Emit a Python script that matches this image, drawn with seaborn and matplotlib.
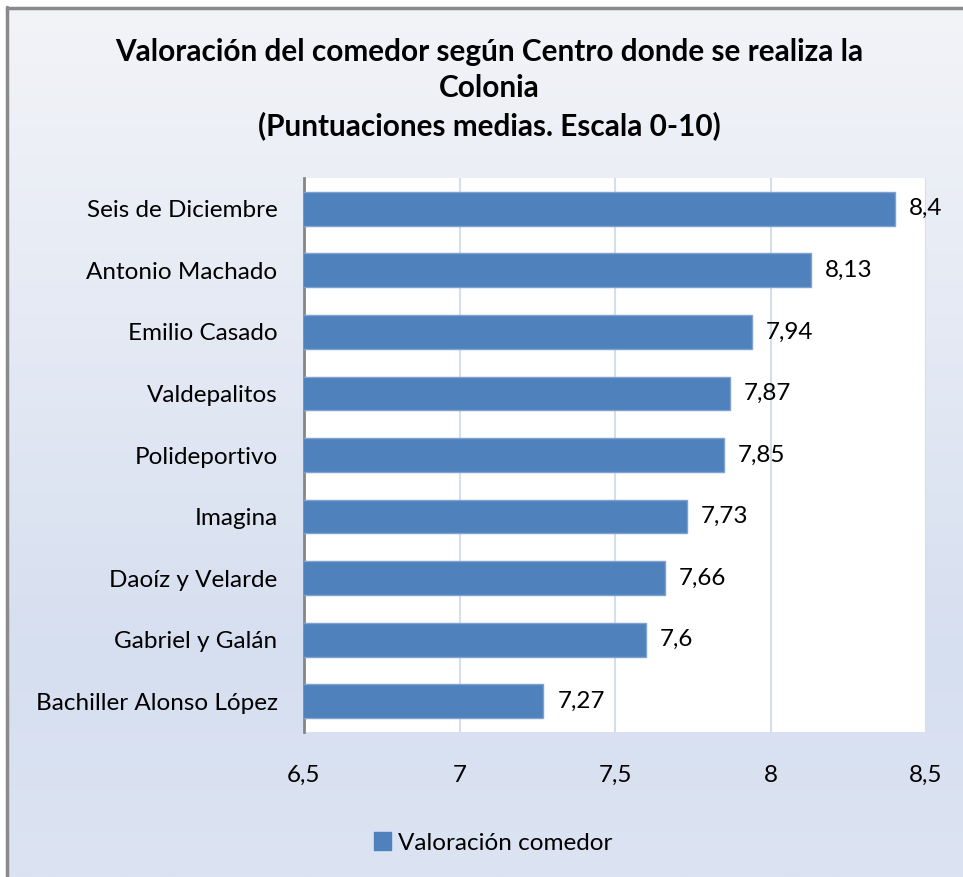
import matplotlib
matplotlib.use("Agg")
import matplotlib.pyplot as plt
import seaborn as sns
import numpy as np
import pandas as pd
from matplotlib.patches import Patch
from matplotlib.lines import Line2D

# ---- data ----
centros = ["Seis de Diciembre", "Antonio Machado", "Emilio Casado", "Valdepalitos",
           "Polideportivo", "Imagina", "Daoíz y Velarde", "Gabriel y Galán",
           "Bachiller Alonso López"]
valores = [8.4, 8.13, 7.94, 7.87, 7.85, 7.73, 7.66, 7.6, 7.27]
xticks = [6.5, 7, 7.5, 8, 8.5]
xtick_labels = ["6,5", "7", "7,5", "8", "8,5"]
serie = "Valoración comedor"
titulo = "Valoración del comedor según Centro donde se realiza la\nColonia\n(Puntuaciones medias. Escala 0-10)"

df = pd.DataFrame({"Centro": centros, "Valor": valores})

sns.set_theme(style="white")
plt.rcParams["font.family"] = ["Lato", "DejaVu Sans"]
plt.rcParams["text.color"] = "black"

W, H = 963, 877
fig = plt.figure(figsize=(W / 100, H / 100), dpi=100)

# background gradient
bg = fig.add_axes([0, 0, 1, 1], zorder=-10)
top = np.array([243, 244, 248]) / 255
mid = np.array([214, 223, 240]) / 255
bot = np.array([220, 228, 243]) / 255
n = 400
t = np.linspace(0, 1, n)
cols = np.zeros((n, 1, 3))
for i, tt in enumerate(t):
    if tt < 0.75:
        f = tt / 0.75
        cols[i, 0] = top * (1 - f) + mid * f
    else:
        f = (tt - 0.75) / 0.25
        cols[i, 0] = mid * (1 - f) + bot * f
bg.imshow(cols, aspect="auto", extent=[0, 1, 0, 1], origin="upper")
bg.set_xlim(0, 1)
bg.set_ylim(0, 1)
bg.add_patch(plt.Rectangle((0, 0), 6 / W, 1, color="white", zorder=2))
bg.add_patch(plt.Rectangle((0, 1 - 6 / H), 1, 6 / H, color="white", zorder=2))
bg.add_line(Line2D([7 / W, 7 / W], [0, 1 - 7 / H], color="#8a8a8a", lw=2.5, zorder=3))
bg.add_line(Line2D([7 / W, 1], [1 - 7.5 / H, 1 - 7.5 / H], color="#8a8a8a", lw=2.5, zorder=3))
bg.axis("off")

ax = fig.add_axes([304 / W, 1 - 732 / H, (926 - 304) / W, (732 - 178) / H])
ax.set_facecolor("white")
sns.barplot(data=df, y="Centro", x="Valor", orient="h", color="#4F81BD",
            width=0.55, saturation=1, edgecolor="#7FA2D0", linewidth=1, ax=ax, zorder=3)
ax.set_xlim(6.5, 8.5)
ax.set_xticks(xticks)
ax.set_xticklabels(xtick_labels)
ax.grid(axis="x", color="#D5DEEE", lw=1.5, zorder=0)
ax.set_axisbelow(True)
for s in ["top", "right", "bottom"]:
    ax.spines[s].set_visible(False)
ax.spines["left"].set_color("#868686")
ax.spines["left"].set_linewidth(2)
ax.set_xlabel("")
ax.set_ylabel("")
ax.tick_params(axis="x", length=0, pad=24, labelsize=17.5, colors="black")
ax.tick_params(axis="y", length=0, pad=19, labelsize=17.5, colors="black")

labels = [f"{v:g}".replace(".", ",") for v in valores]
ax.bar_label(ax.containers[0], labels=labels, padding=10, fontsize=17.5, color="black")

fig.text(0.508, 1 - 89 / H, titulo, ha="center", va="center", fontsize=21.4,
         fontweight="bold", linespacing=1.38, color="black")

handle = Patch(facecolor="#4F81BD", edgecolor="#4F81BD")
fig.legend([handle], [serie], loc="center", bbox_to_anchor=(493 / W, 1 - 843 / H),
           frameon=False, fontsize=17.5, handlelength=0.7, handleheight=0.7,
           handletextpad=0.3, labelcolor="black")

fig.savefig("out.png", dpi=100)
